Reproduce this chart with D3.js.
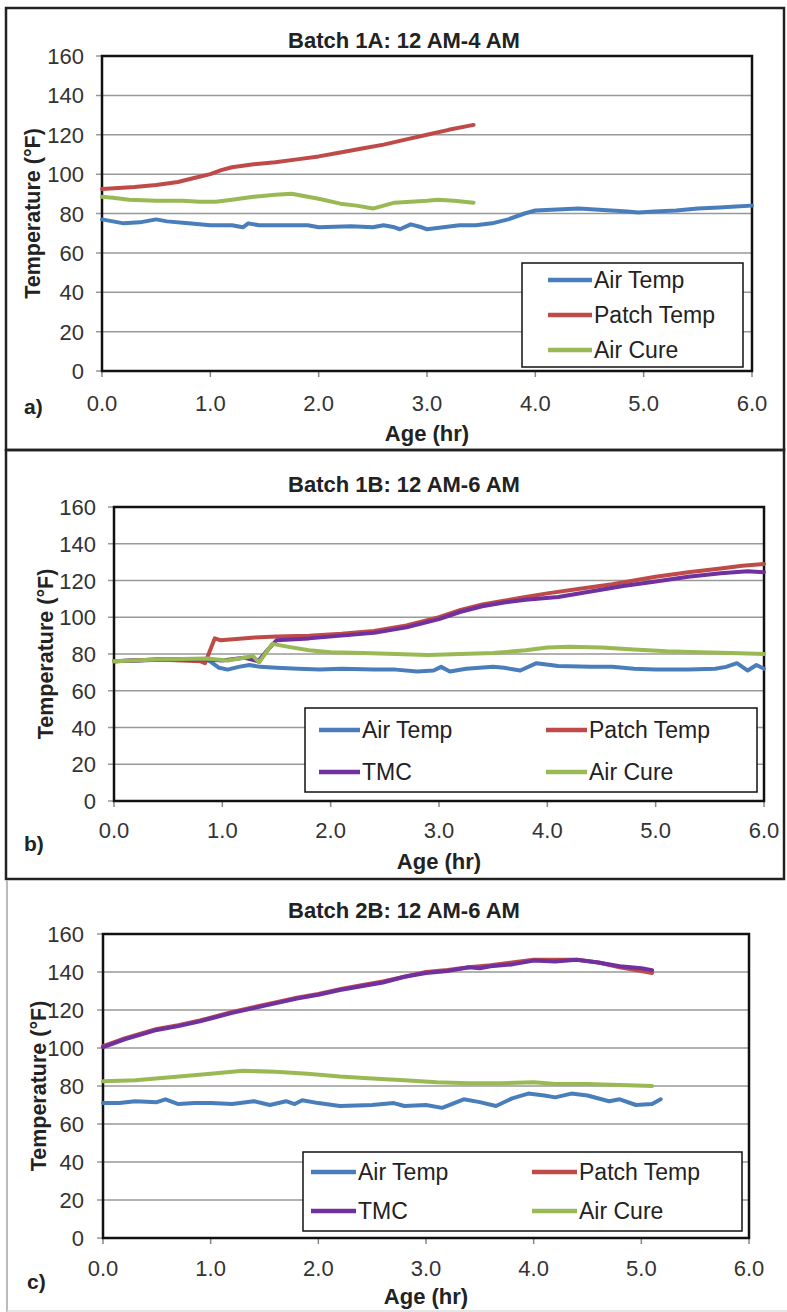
<!DOCTYPE html>
<html lang="en">
<head>
<meta charset="utf-8">
<title>Batch temperatures</title>
<script src="https://cdn.jsdelivr.net/npm/d3@7"></script>
<style>
body { margin: 0; background: #fff; }
</style>
</head>
<body>
<script>
// readings taken off the three panels: [age hr, temperature F]
var a_air = [[0,77],[0.1,76],[0.2,75],[0.35,75.5],[0.5,77],[0.6,76],[0.8,75],[1.0,74],[1.2,74],[1.3,73],[1.35,75],[1.45,74],[1.6,74],[1.75,74],[1.9,74],[2.0,73],[2.3,73.5],[2.5,73],[2.6,74],[2.7,73],[2.75,72],[2.85,74.5],[2.95,73],[3.0,72],[3.15,73],[3.3,74],[3.45,74],[3.6,75],[3.75,77],[3.9,80],[4.0,81.5],[4.2,82],[4.4,82.5],[4.55,82],[4.7,81.5],[4.85,81],[4.95,80.5],[5.1,81],[5.3,81.5],[5.5,82.5],[5.7,83],[5.85,83.5],[6.0,84]];
var a_patch = [[0,92.5],[0.15,93],[0.3,93.5],[0.5,94.5],[0.7,96],[0.85,98],[1.0,100],[1.1,102],[1.2,103.5],[1.4,105],[1.6,106],[1.8,107.5],[2.0,109],[2.2,111],[2.4,113],[2.6,115],[2.8,117.5],[3.0,120],[3.2,122.5],[3.43,125]];
var a_cure = [[0,88.5],[0.1,88],[0.25,87],[0.5,86.5],[0.75,86.5],[0.9,86],[1.05,86],[1.2,87],[1.4,88.5],[1.6,89.5],[1.75,90],[1.85,89],[2.0,87.5],[2.2,85],[2.35,84],[2.5,82.5],[2.6,84],[2.7,85.5],[2.85,86],[3.0,86.5],[3.1,87],[3.25,86.5],[3.43,85.5]];

var b_air = [[0,76],[0.4,77],[0.85,77],[0.9,75.5],[0.97,72.5],[1.05,71.5],[1.15,73],[1.25,74],[1.35,73],[1.5,72.5],[1.7,72],[1.9,71.5],[2.1,72],[2.4,71.5],[2.6,71.5],[2.8,70.5],[2.95,71],[3.02,73],[3.1,70.5],[3.25,72],[3.5,73],[3.6,72.5],[3.75,71],[3.9,75],[4.1,73.5],[4.4,73],[4.6,73],[4.8,72],[5.0,71.5],[5.3,71.5],[5.55,72],[5.65,73],[5.75,75],[5.85,71],[5.93,74],[6.0,72]];
var b_patch = [[0,76],[0.4,77],[0.8,76],[0.84,75],[0.93,88.5],[0.98,87.5],[1.1,88],[1.3,89],[1.5,89.5],[1.8,90],[2.1,91],[2.4,92.5],[2.7,95.5],[2.9,98.5],[3.0,100],[3.2,104],[3.4,107],[3.6,109],[3.8,111],[4.0,113],[4.3,115.5],[4.6,118],[5.0,122],[5.3,124.5],[5.6,126.5],[5.8,128],[6.0,129]];
var b_tmc = [[0,76],[0.5,77],[0.85,77],[1.0,76.5],[1.2,78],[1.33,76],[1.4,81],[1.5,87.5],[1.8,88.5],[2.1,90],[2.4,91.5],[2.7,94.5],[2.9,97.5],[3.0,99],[3.2,103],[3.4,106],[3.6,108],[3.8,109.5],[4.1,111],[4.4,114],[4.7,117],[5.0,119.5],[5.3,122],[5.6,124],[5.85,125],[6.0,124.5]];
var b_cure = [[0,76],[0.4,77],[0.85,77.5],[0.95,77],[1.05,76.5],[1.2,78],[1.28,79],[1.34,75.5],[1.46,85.5],[1.6,84],[1.8,82],[2.0,81],[2.3,80.5],[2.6,80],[2.9,79.5],[3.2,80],[3.5,80.5],[3.8,82],[4.0,83.5],[4.2,84],[4.5,83.5],[4.8,82.5],[5.1,81.5],[5.4,81],[5.7,80.5],[6.0,80]];

var c_air = [[0,71],[0.15,71],[0.3,72],[0.5,71.5],[0.58,73],[0.7,70.5],[0.85,71],[1.0,71],[1.2,70.5],[1.4,72],[1.55,70],[1.7,72],[1.78,70.5],[1.85,72.5],[2.0,71],[2.2,69.5],[2.5,70],[2.7,71],[2.8,69.5],[3.0,70],[3.15,68.5],[3.35,73],[3.5,71.5],[3.65,69.5],[3.8,73.5],[3.95,76],[4.1,75],[4.2,74],[4.35,76],[4.5,75],[4.7,72],[4.8,73],[4.95,70],[5.1,70.5],[5.18,73]];
var c_patch = [[0,101],[0.1,103],[0.2,105],[0.35,107.5],[0.5,110],[0.7,112],[0.9,114.5],[1.0,116],[1.2,119],[1.4,121.5],[1.6,124],[1.8,126.5],[2.0,128.5],[2.2,131],[2.4,133],[2.6,135],[2.8,137.5],[3.0,140],[3.2,141],[3.4,142.5],[3.6,143.5],[3.8,145],[4.0,146.5],[4.2,146.5],[4.4,146.5],[4.6,145],[4.8,142.5],[5.0,140.5],[5.1,139.5]];
var c_tmc = [[0,100.5],[0.1,102.5],[0.2,104.5],[0.35,107],[0.5,109.5],[0.7,111.5],[0.9,114],[1.0,115.5],[1.2,118.5],[1.4,121],[1.6,123.5],[1.8,126],[2.0,128],[2.2,130.5],[2.4,132.5],[2.6,134.5],[2.8,137.5],[3.0,139.5],[3.2,140.5],[3.4,142.5],[3.5,142],[3.6,143],[3.8,144],[4.0,146],[4.2,145.5],[4.4,146.5],[4.6,145],[4.8,143],[4.9,142.5],[5.0,142],[5.1,141]];
var c_cure = [[0,82.5],[0.3,83],[0.6,84.5],[1.0,86.5],[1.3,88],[1.6,87.5],[1.9,86.5],[2.2,85],[2.5,84],[2.8,83],[3.1,82],[3.4,81.5],[3.7,81.5],[4.0,82],[4.2,81],[4.5,81],[4.8,80.5],[5.1,80]];

var xTicks = [0,1,2,3,4,5,6];
var yTicks = [0,20,40,60,80,100,120,140,160];
var titles = ["Batch 1A: 12 AM-4 AM", "Batch 1B: 12 AM-6 AM", "Batch 2B: 12 AM-6 AM"];
var panelTags = ["a)", "b)", "c)"];

var colors = {air:"#4a7ebb", patch:"#be4b48", tmc:"#7030a0", cure:"#98b954"};
var FONT = "'Liberation Sans',Arial,sans-serif";

var svg = d3.select("body").append("svg")
  .attr("width", 787).attr("height", 1312);

// panel frames
svg.append("rect").attr("x",6).attr("y",8).attr("width",778).attr("height",442)
  .attr("fill","none").attr("stroke","#222").attr("stroke-width",2.5);
svg.append("rect").attr("x",6).attr("y",450).attr("width",778).attr("height",429)
  .attr("fill","none").attr("stroke","#222").attr("stroke-width",2.5);
svg.append("line").attr("x1",7).attr("x2",7).attr("y1",880).attr("y2",1312)
  .attr("stroke","#bbb").attr("stroke-width",2);
svg.append("line").attr("x1",7).attr("x2",787).attr("y1",1311).attr("y2",1311)
  .attr("stroke","#ddd").attr("stroke-width",1.5);

function drawPanel(p) {
  var x = d3.scaleLinear().domain([0,6]).range([p.left, p.right]);
  var y = d3.scaleLinear().domain([0,160]).range([p.bottom, p.top]);
  var g = svg.append("g");

  // gridlines + y ticks
  g.selectAll(".grid").data(yTicks).enter().append("line")
    .attr("x1", p.left - 6).attr("x2", p.right)
    .attr("y1", function(d){return y(d);}).attr("y2", function(d){return y(d);})
    .attr("stroke", "#999").attr("stroke-width", 1.5);

  g.selectAll(".yl").data(yTicks).enter().append("text")
    .attr("x", p.ylabX).attr("y", function(d){return y(d) + 8;})
    .attr("text-anchor","end").attr("font-family",FONT).attr("font-size",22)
    .attr("fill","#333").text(function(d){return d;});

  // x ticks
  g.selectAll(".xt").data(xTicks).enter().append("line")
    .attr("x1", function(d){return x(d);}).attr("x2", function(d){return x(d);})
    .attr("y1", p.bottom).attr("y2", p.bottom + 6)
    .attr("stroke","#888").attr("stroke-width",1.5);
  g.selectAll(".xl").data(xTicks).enter().append("text")
    .attr("x", function(d){return x(d);}).attr("y", p.xlabY)
    .attr("text-anchor","middle").attr("font-family",FONT).attr("font-size",22)
    .attr("fill","#333").text(function(d){return d3.format(".1f")(d);});

  // plot frame
  g.append("rect").attr("x",p.left).attr("y",p.top)
    .attr("width",p.right-p.left).attr("height",p.bottom-p.top)
    .attr("fill","none").attr("stroke","#111").attr("stroke-width",2.5);

  var line = d3.line().x(function(d){return x(d[0]);}).y(function(d){return y(d[1]);});
  p.series.forEach(function(s){
    g.append("path").datum(s.data).attr("d", line)
      .attr("fill","none").attr("stroke", colors[s.key])
      .attr("stroke-width",4).attr("stroke-linejoin","round").attr("stroke-linecap","round");
  });

  // titles
  g.append("text").attr("x",404).attr("y",p.titleY).attr("text-anchor","middle")
    .attr("font-family",FONT).attr("font-weight","bold").attr("font-size",22)
    .attr("fill","#222").text(p.title);
  g.append("text").attr("x",(p.left+p.right)/2).attr("y",p.axisY).attr("text-anchor","middle")
    .attr("font-family",FONT).attr("font-weight","bold").attr("font-size",22)
    .attr("fill","#222").text("Age (hr)");
  g.append("text").attr("transform","translate(" + p.ytX + "," + ((p.top+p.bottom)/2) + ") rotate(-90)")
    .attr("text-anchor","middle").attr("font-family",FONT).attr("font-weight","bold").attr("font-size",21.5)
    .attr("fill","#222").text("Temperature (°F)");
  g.append("text").attr("x",p.tagX).attr("y",p.tagY)
    .attr("font-family",FONT).attr("font-weight","bold").attr("font-size",21)
    .attr("fill","#222").text(p.tag);

  // legend
  var L = p.legend;
  g.append("rect").attr("x",L.x).attr("y",L.y).attr("width",L.w).attr("height",L.h)
    .attr("fill","#fff").attr("stroke","#111").attr("stroke-width",1.5);
  L.items.forEach(function(it){
    g.append("line").attr("x1",it.lx).attr("x2",it.lx+L.len).attr("y1",it.ly).attr("y2",it.ly)
      .attr("stroke",colors[it.key]).attr("stroke-width",4.5);
    g.append("text").attr("x",it.lx+L.len+2).attr("y",it.ly+8)
      .attr("font-family",FONT).attr("font-size",23).attr("fill","#222").text(it.label);
  });
}

drawPanel({
  left:102, right:752, top:56, bottom:371, ylabX:84, xlabY:411, titleY:48, axisY:441,
  ytX:40, tagX:24, tagY:414, tag:panelTags[0], title:titles[0],
  series:[{key:"air",data:a_air},{key:"patch",data:a_patch},{key:"cure",data:a_cure}],
  legend:{x:522,y:263,w:221,h:104,len:44,items:[
    {key:"air",label:"Air Temp",lx:548,ly:280},
    {key:"patch",label:"Patch Temp",lx:548,ly:315},
    {key:"cure",label:"Air Cure",lx:548,ly:350}]}
});

drawPanel({
  left:114, right:764, top:507, bottom:801, ylabX:96, xlabY:838, titleY:492, axisY:869,
  ytX:53, tagX:24, tagY:851, tag:panelTags[1], title:titles[1],
  series:[{key:"air",data:b_air},{key:"patch",data:b_patch},{key:"tmc",data:b_tmc},{key:"cure",data:b_cure}],
  legend:{x:305,y:708,w:452,h:84,len:41,items:[
    {key:"air",label:"Air Temp",lx:319,ly:730},
    {key:"patch",label:"Patch Temp",lx:546,ly:730},
    {key:"tmc",label:"TMC",lx:319,ly:772},
    {key:"cure",label:"Air Cure",lx:546,ly:772}]}
});

drawPanel({
  left:103, right:749, top:934, bottom:1238, ylabX:84, xlabY:1276, titleY:918, axisY:1304,
  ytX:46, tagX:27, tagY:1289, tag:panelTags[2], title:titles[2],
  series:[{key:"air",data:c_air},{key:"patch",data:c_patch},{key:"tmc",data:c_tmc},{key:"cure",data:c_cure}],
  legend:{x:303,y:1152,w:439,h:79,len:45,items:[
    {key:"air",label:"Air Temp",lx:311,ly:1172},
    {key:"patch",label:"Patch Temp",lx:532,ly:1172},
    {key:"tmc",label:"TMC",lx:311,ly:1211},
    {key:"cure",label:"Air Cure",lx:532,ly:1211}]}
});
</script>
</body>
</html>
